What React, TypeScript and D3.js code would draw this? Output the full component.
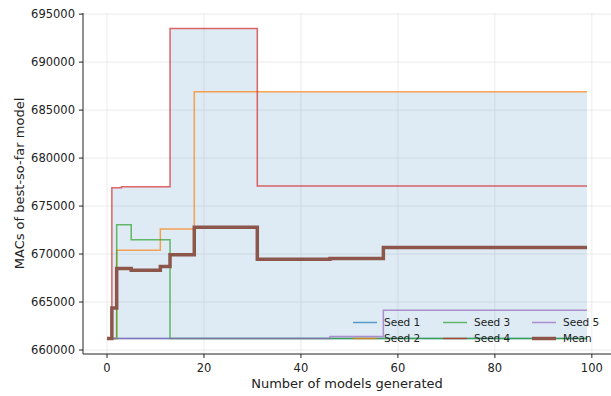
import React from 'react';
import * as d3 from 'd3';

// Best-so-far MACs per seed, stored as step change points [model index, MACs]
const lastIndex = 99;
const seed1Steps: [number, number][] = [[0, 661200]];
const seed2Steps: [number, number][] = [[0, 661200], [2, 670400], [11, 672600], [18, 686900]];
const seed3Steps: [number, number][] = [[0, 661200], [2, 673060], [5, 671500], [13, 661200]];
const seed4Steps: [number, number][] = [[0, 661200], [1, 676900], [3, 677000], [13, 693500], [31, 677100]];
const seed5Steps: [number, number][] = [[0, 661200], [46, 661400], [57, 664150]];
const meanSteps: [number, number][] = [
  [0, 661200], [1, 664370], [2, 668500], [5, 668300], [11, 668700],
  [13, 669930], [18, 672780], [31, 669470], [46, 669540], [57, 670680],
];

const seedNames = ['Seed 1', 'Seed 2', 'Seed 3', 'Seed 4', 'Seed 5'];
const seedColors = ['#1f77b4', '#ff7f0e', '#2ca02c', '#d62728', '#9467bd'];
const meanColor = '#8c564b';
const xTicks = [0, 20, 40, 60, 80, 100];
const yTicks = [660000, 665000, 670000, 675000, 680000, 685000, 690000, 695000];

const WIDTH = 611;
const HEIGHT = 396;
const PLOT = { left: 83, right: 611, top: 13, bottom: 354 };
const FONT = '"DejaVu Sans", sans-serif';
const INK = '#222';

// hold the last value out to the final model index
const withEnd = (steps: [number, number][]) => [...steps, [lastIndex, steps[steps.length - 1][1]] as [number, number]];
const valueAt = (steps: [number, number][], i: number) => {
  let v = steps[0][1];
  for (const [x, y] of steps) if (x <= i) v = y;
  return v;
};

const App: React.FC = () => {
  const seeds = [seed1Steps, seed2Steps, seed3Steps, seed4Steps, seed5Steps];
  const allVals = seeds.flatMap(s => s.map(d => d[1]));
  const yMin = d3.min(allVals)!;
  const yMax = d3.max(allVals)!;
  const yPad = (yMax - yMin) * 0.05;
  const xPad = lastIndex * 0.05;

  const x = d3.scaleLinear().domain([-xPad, lastIndex + xPad]).range([PLOT.left, PLOT.right]);
  const y = d3.scaleLinear().domain([yMin - yPad, yMax + yPad]).range([PLOT.bottom, PLOT.top]);

  const line = d3
    .line<[number, number]>()
    .x(d => x(d[0]))
    .y(d => y(d[1]))
    .curve(d3.curveStepAfter);

  const band = d3.range(0, lastIndex + 1).map(i => {
    const vals = seeds.map(s => valueAt(s, i));
    return { i, lo: d3.min(vals)!, hi: d3.max(vals)! };
  });
  const area = d3
    .area<{ i: number; lo: number; hi: number }>()
    .x(d => x(d.i))
    .y0(d => y(d.lo))
    .y1(d => y(d.hi))
    .curve(d3.curveStepAfter);

  // legend: 3 columns, column-major
  const legendItems = [
    ...seedNames.map((n, k) => ({ name: n, color: seedColors[k], width: 1.5, opacity: 0.7 })),
    { name: 'Mean', color: meanColor, width: 3.5, opacity: 1 },
  ];
  const legendCols = [353, 443, 532];
  const legendRows = [322.5, 338.5];

  return (
    <svg
      width={WIDTH}
      height={HEIGHT}
      style={{ position: 'absolute', left: 0, top: 0, background: '#fff' }}
      fontFamily={FONT}
    >
      {/* grid */}
      {xTicks.map(t => (
        <line key={'gx' + t} x1={x(t)} x2={x(t)} y1={PLOT.top} y2={PLOT.bottom} stroke="#e6e6e6" strokeWidth={0.8} />
      ))}
      {yTicks.map(t => (
        <line key={'gy' + t} x1={PLOT.left} x2={PLOT.right} y1={y(t)} y2={y(t)} stroke="#e6e6e6" strokeWidth={0.8} />
      ))}

      <path d={area(band) || ''} fill="#1f77b4" fillOpacity={0.15} />

      {seeds.map((s, k) => (
        <path
          key={seedNames[k]}
          d={line(withEnd(s)) || ''}
          fill="none"
          stroke={seedColors[k]}
          strokeOpacity={0.7}
          strokeWidth={1.5}
        />
      ))}
      <path d={line(withEnd(meanSteps)) || ''} fill="none" stroke={meanColor} strokeWidth={3.5} />

      {/* axes */}
      <line x1={PLOT.left} x2={PLOT.left} y1={PLOT.top} y2={PLOT.bottom} stroke={INK} strokeWidth={1} />
      <line x1={PLOT.left} x2={PLOT.right} y1={PLOT.bottom} y2={PLOT.bottom} stroke={INK} strokeWidth={1} />
      {xTicks.map(t => (
        <g key={'xt' + t}>
          <line x1={x(t)} x2={x(t)} y1={PLOT.bottom} y2={PLOT.bottom + 4} stroke={INK} />
          <text x={x(t)} y={PLOT.bottom + 17.5} textAnchor="middle" fontSize={11.5} fill={INK}>
            {t}
          </text>
        </g>
      ))}
      {yTicks.map(t => (
        <g key={'yt' + t}>
          <line x1={PLOT.left - 4} x2={PLOT.left} y1={y(t)} y2={y(t)} stroke={INK} />
          <text x={PLOT.left - 8} y={y(t) + 4} textAnchor="end" fontSize={11.5} fill={INK}>
            {t}
          </text>
        </g>
      ))}
      <text x={(PLOT.left + PLOT.right) / 2} y={388} textAnchor="middle" fontSize={13} fill={INK}>
        Number of models generated
      </text>
      <text
        transform={`translate(24,${(PLOT.top + PLOT.bottom) / 2}) rotate(-90)`}
        textAnchor="middle"
        fontSize={13}
        fill={INK}
      >
        MACs of best-so-far model
      </text>

      {/* legend */}
      {legendItems.map((it, k) => {
        const lx = legendCols[Math.floor(k / 2)];
        const ly = legendRows[k % 2];
        return (
          <g key={it.name}>
            <line
              x1={lx}
              x2={lx + 24}
              y1={ly}
              y2={ly}
              stroke={it.color}
              strokeOpacity={it.opacity}
              strokeWidth={it.width}
            />
            <text x={lx + 31} y={ly + 3.5} fontSize={10.5} fill={INK}>
              {it.name}
            </text>
          </g>
        );
      })}
    </svg>
  );
};

export default App;
